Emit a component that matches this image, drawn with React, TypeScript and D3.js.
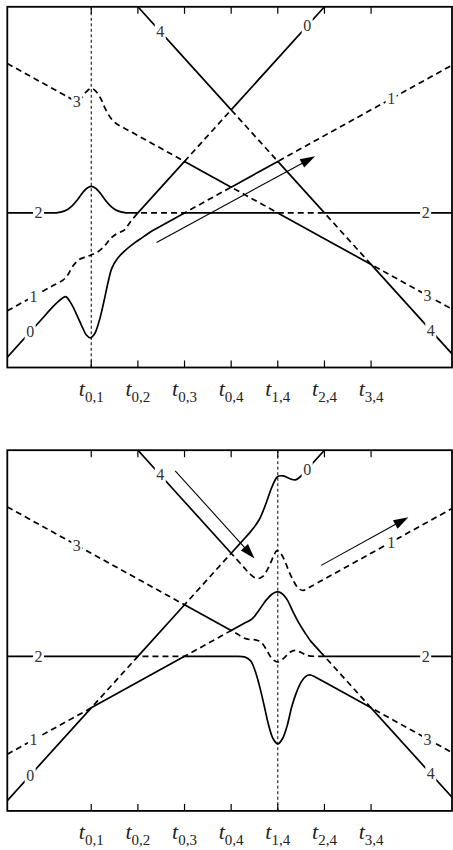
import React from 'react';
import * as d3 from 'd3';

const W = 453;
const H = 850;

// diabatic lines: E = slope * u + intercept (u in units of tick spacing)
const lineNames = ['0', '1', '2', '3', '4'];
const slopes = [2, 1, 0, -1, -2];
const intercepts = [2, 3, 6, 11, 18];

// x-axis ticks
const tickValues = [1, 2, 3, 4, 5, 6, 7];
const tickSubs = ['0,1', '0,2', '0,3', '0,4', '1,4', '2,4', '3,4'];

const uDomain: [number, number] = [-0.8, 8.735];
const eDomain: [number, number] = [0, 14];

// label positions (u) of the line names, left and right side
const labelLeftU = [-0.31, -0.24, -0.13, 0.69, 2.48];
const labelRightU = [5.63, 7.43, 8.17, 8.21, 8.28];

// smooth (coupled) parts of the adiabatic curves: [u, E]
const topCurves: (number[][] | null)[] = [
  [[0.0, 2.0], [0.2, 2.4], [0.35, 2.65], [0.45, 2.75], [0.58, 2.45], [0.7, 2.0], [0.8, 1.6], [0.9, 1.25], [0.98, 1.15], [1.07, 1.3], [1.17, 1.8], [1.27, 2.55], [1.36, 3.3], [1.44, 3.85], [1.55, 4.2], [1.7, 4.5], [1.9, 4.8], [2.1, 5.05], [2.3, 5.3]],
  [[0.2, 3.2], [0.4, 3.4], [0.5, 3.6], [0.6, 3.92], [0.75, 4.2], [0.9, 4.3], [1.0, 4.37], [1.15, 4.5], [1.3, 4.75], [1.42, 5.02], [1.55, 5.2], [1.7, 5.32], [1.85, 5.68], [2.0, 6.0]],
  [[0.25, 6.0], [0.4, 6.06], [0.5, 6.14], [0.6, 6.29], [0.7, 6.5], [0.8, 6.75], [0.9, 6.95], [1.0, 7.03], [1.1, 6.95], [1.2, 6.75], [1.3, 6.5], [1.4, 6.29], [1.5, 6.14], [1.6, 6.06], [1.75, 6.0]],
  [[0.5, 10.5], [0.65, 10.37], [0.78, 10.45], [0.88, 10.68], [1.0, 10.83], [1.1, 10.72], [1.2, 10.45], [1.3, 10.05], [1.41, 9.7], [1.55, 9.45], [1.7, 9.3]],
  null,
];

const bottomCurves: (number[][] | null)[] = [
  [[4.15, 6.0], [4.3, 5.97], [4.42, 5.82], [4.52, 5.4], [4.6, 4.9], [4.7, 4.15], [4.8, 3.35], [4.9, 2.8], [5.0, 2.6], [5.1, 2.8], [5.2, 3.3], [5.3, 4.05], [5.4, 4.6], [5.5, 5.0], [5.6, 5.22], [5.68, 5.28], [5.8, 5.2], [5.95, 5.05]],
  [[4.15, 6.85], [4.26, 6.72], [4.4, 6.65], [4.52, 6.64], [4.64, 6.55], [4.76, 6.25], [4.87, 5.92], [5.0, 5.78], [5.13, 5.93], [5.26, 6.16], [5.37, 6.23], [5.5, 6.15], [5.62, 6.04], [5.8, 6.0]],
  [[4.3, 7.3], [4.45, 7.45], [4.6, 7.8], [4.75, 8.18], [4.88, 8.42], [4.98, 8.5], [5.08, 8.45], [5.2, 8.2], [5.32, 7.75], [5.45, 7.3], [5.57, 6.95], [5.7, 6.6]],
  [[4.1, 9.8], [4.25, 9.5], [4.4, 9.2], [4.55, 9.02], [4.68, 9.1], [4.8, 9.45], [4.9, 9.85], [4.98, 10.1], [5.06, 10.0], [5.15, 9.7], [5.25, 9.25], [5.35, 8.88], [5.45, 8.62], [5.55, 8.56], [5.7, 8.7], [5.9, 8.9]],
  [[4.4, 10.8], [4.6, 11.3], [4.75, 11.95], [4.88, 12.6], [5.0, 12.98], [5.12, 13.0], [5.25, 12.9], [5.38, 12.85], [5.5, 13.0], [5.65, 13.3]],
];

// arrows [u0, E0, u1, E1]
const topArrows = [[2.4, 4.85, 5.8, 8.2]];
const bottomArrows = [[2.8, 13.2, 4.5, 9.8], [5.93, 9.53, 7.8, 11.4]];

// dashed vertical marker
const topMarkU = 1;
const bottomMarkU = 5;

const BOX_LEFT = 7.3;
const BOX_RIGHT = 452;
const BOX_H = 360.7;
const FONT = 'Liberation Serif, DejaVu Serif, serif';

function sortedValue(k: number, u: number): number {
  const vals = slopes.map((s, i) => s * u + intercepts[i]).sort((a, b) => a - b);
  return vals[k];
}

const breakU = [uDomain[0], ...tickValues, uDomain[1]];

function buildPath(k: number, pert: number[][] | null, x: any, y: any): string {
  const toPx = (p: number[]) => [x(p[0]), y(p[1])] as [number, number];
  const base = breakU.map((u) => [u, sortedValue(k, u)]);
  const lin = d3.line();
  if (!pert) return lin(base.map(toPx)) || '';
  const ua = pert[0][0];
  const ub = pert[pert.length - 1][0];
  const left = base.filter((p) => p[0] < ua);
  const right = base.filter((p) => p[0] > ub);
  const leftStr = lin([...left, pert[0]].map(toPx)) || '';
  const mid = d3.line().curve(d3.curveCatmullRom.alpha(0.5))(pert.map(toPx)) || '';
  const rightStr = lin([pert[pert.length - 1], ...right].map(toPx)) || '';
  return leftStr + mid.replace(/^M/, 'L') + rightStr.replace(/^M/, 'L');
}

function Arrow({ a, x, y }: { a: number[]; x: any; y: any }) {
  const x0 = x(a[0]), y0 = y(a[1]), x1 = x(a[2]), y1 = y(a[3]);
  const dx = x1 - x0, dy = y1 - y0;
  const len = Math.hypot(dx, dy);
  const ux = dx / len, uy = dy / len;
  const hl = 15, hw = 4.8;
  const bx = x1 - ux * hl, by = y1 - uy * hl;
  const pts = [
    [x1, y1],
    [bx - uy * hw, by + ux * hw],
    [bx + uy * hw, by - ux * hw],
  ];
  return (
    <g>
      <line x1={x0} y1={y0} x2={bx + ux * 2} y2={by + uy * 2} stroke="#000" strokeWidth={1.1} />
      <polygon points={pts.map((p) => p.join(',')).join(' ')} fill="#000" />
    </g>
  );
}

function Panel({ y0, curves, arrows, markU, id }: { y0: number; curves: (number[][] | null)[]; arrows: number[][]; markU: number; id: string }) {
  const x = d3.scaleLinear().domain(uDomain).range([BOX_LEFT, BOX_RIGHT]);
  const y = d3.scaleLinear().domain(eDomain).range([y0 + BOX_H, y0]);
  const yb = y0 + BOX_H;
  return (
    <g>
      <defs>
        <clipPath id={id}>
          <rect x={BOX_LEFT} y={y0} width={BOX_RIGHT - BOX_LEFT} height={BOX_H} />
        </clipPath>
      </defs>
      <g clipPath={`url(#${id})`}>
        <line x1={x(markU)} x2={x(markU)} y1={y0} y2={yb} stroke="#000" strokeWidth={1} strokeDasharray="3,2.5" />
        {curves.map((c, k) => (
          <path
            key={k}
            d={buildPath(k, c, x, y)}
            fill="none"
            stroke="#000"
            strokeWidth={1.7}
            strokeDasharray={k % 2 === 1 ? '6,4' : undefined}
            strokeLinejoin="round"
          />
        ))}
        {arrows.map((a, i) => (
          <Arrow key={i} a={a} x={x} y={y} />
        ))}
        {lineNames.map((name, i) => {
          const us = [labelLeftU[i], labelRightU[i]];
          return us.map((u, j) => {
            const cx = x(u);
            const cy = y(slopes[i] * u + intercepts[i]);
            return (
              <g key={`${i}-${j}`}>
                <rect x={cx - 5.5} y={cy - 7.5} width={11} height={15} fill="#fff" />
                <text x={cx} y={cy + 5.5} textAnchor="middle" style={{ fontFamily: FONT }} fontSize={16} fill="#333">
                  {name}
                </text>
              </g>
            );
          });
        })}
      </g>
      {tickValues.map((v) => (
        <g key={v}>
          <line x1={x(v)} x2={x(v)} y1={y0} y2={y0 + 7} stroke="#000" strokeWidth={1.2} />
          <line x1={x(v)} x2={x(v)} y1={yb} y2={yb - 7} stroke="#000" strokeWidth={1.2} />
        </g>
      ))}
      <rect x={BOX_LEFT} y={y0} width={BOX_RIGHT - BOX_LEFT} height={BOX_H} fill="none" stroke="#000" strokeWidth={1.8} />
      {tickValues.map((v, i) => (
        <text key={v} x={x(v)} y={yb + 28.5} textAnchor="middle" style={{ fontFamily: FONT }} fill="#222">
          <tspan fontStyle="italic" fontSize={22}>t</tspan>
          <tspan fontSize={15} dy={5.5}>{tickSubs[i]}</tspan>
        </text>
      ))}
    </g>
  );
}

export default function App() {
  return (
    <svg width={W} height={H} style={{ position: 'absolute', left: 0, top: 0, background: '#fff' }}>
      <rect x={0} y={0} width={W} height={H} fill="#fff" />
      <Panel y0={6.8} curves={topCurves} arrows={topArrows} markU={topMarkU} id="clipTop" />
      <Panel y0={450.2} curves={bottomCurves} arrows={bottomArrows} markU={bottomMarkU} id="clipBottom" />
    </svg>
  );
}
